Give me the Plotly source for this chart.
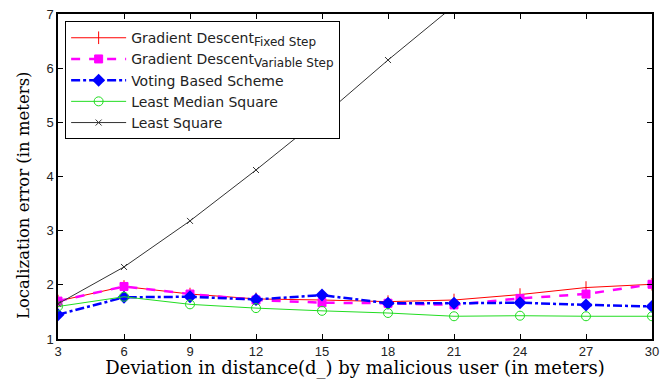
import plotly.graph_objects as go

x = [3, 6, 9, 12, 15, 18, 21, 24, 27, 30]
gd_fixed = [1.70, 1.97, 1.83, 1.74, 1.72, 1.69, 1.72, 1.82, 1.95, 2.01]
gd_variable = [1.70, 1.97, 1.83, 1.72, 1.67, 1.66, 1.63, 1.75, 1.83, 2.01]
voting = [1.45, 1.77, 1.78, 1.73, 1.81, 1.66, 1.66, 1.67, 1.63, 1.60]
lmeds = [1.60, 1.78, 1.64, 1.57, 1.52, 1.48, 1.42, 1.43, 1.42, 1.42]
least_sq = [1.65, 2.33, 3.18, 4.12, 5.10, 6.15, 7.15, 8.20, 9.30, 10.40]

names = [
    "Gradient Descent<sub><span style='font-size:12px'>Fixed Step</span></sub>",
    "Gradient Descent<sub><span style='font-size:12px'>Variable Step</span></sub>",
    "Voting Based Scheme",
    "Least Median Square",
    "Least Square",
]
x_title = "Deviation in distance(d_) by malicious user (in meters)"
y_title = "Localization error (in meters)"

fig = go.Figure()
fig.add_trace(go.Scatter(x=x, y=gd_fixed, mode="lines+markers", name=names[0],
    line=dict(color="red", width=1),
    marker=dict(symbol="line-ns", size=9, line=dict(color="red", width=1))))
fig.add_trace(go.Scatter(x=x, y=gd_variable, mode="lines+markers", name=names[1],
    line=dict(color="magenta", width=2.5, dash="dash"),
    marker=dict(symbol="square", size=8, color="magenta",
                line=dict(color="magenta", width=1))))
fig.add_trace(go.Scatter(x=x, y=voting, mode="lines+markers", name=names[2],
    line=dict(color="blue", width=2.5, dash="dashdot"),
    marker=dict(symbol="diamond", size=10, color="blue")))
fig.add_trace(go.Scatter(x=x, y=lmeds, mode="lines+markers", name=names[3],
    line=dict(color="#22dd22", width=1),
    marker=dict(symbol="circle-open", size=9, color="#22dd22",
                line=dict(color="#22dd22", width=1))))
fig.add_trace(go.Scatter(x=x, y=least_sq, mode="lines+markers", name=names[4],
    line=dict(color="#333333", width=1),
    marker=dict(symbol="x-thin", size=6, line=dict(color="#333333", width=1))))

axis_common = dict(showgrid=False, zeroline=False, showline=True, linecolor="black",
                   linewidth=1.5, mirror="ticks", ticks="inside", ticklen=5,
                   tickcolor="black", automargin=False,
                   tickfont=dict(family="Liberation Sans", size=13, color="#222222"))

fig.update_xaxes(range=[3, 30], tickvals=x, **axis_common,
    title=dict(text=x_title,
               font=dict(family="DejaVu Serif", size=18, color="black"), standoff=3))
fig.update_yaxes(range=[1, 7], tickvals=[1, 2, 3, 4, 5, 6, 7], **axis_common)

fig.add_annotation(text=y_title, textangle=-90, xref="paper", yref="paper",
                   x=0, y=0.443, xshift=-35, xanchor="center", yanchor="middle",
                   showarrow=False,
                   font=dict(family="DejaVu Serif", size=16.5, color="black"))

fig.update_layout(
    width=664, height=379,
    margin=dict(l=58, r=12, t=14, b=40),
    plot_bgcolor="white", paper_bgcolor="white",
    legend=dict(x=0.012, y=0.978, xanchor="left", yanchor="top",
                bordercolor="black", borderwidth=1, bgcolor="white",
                font=dict(family="DejaVu Sans", size=14, color="#222222"),
                tracegroupgap=0, itemwidth=55),
    showlegend=True,
)

fig.write_html("out.html", config={"displayModeBar": False},
               post_script="document.body.style.margin='0px';document.body.style.overflow='hidden';")
